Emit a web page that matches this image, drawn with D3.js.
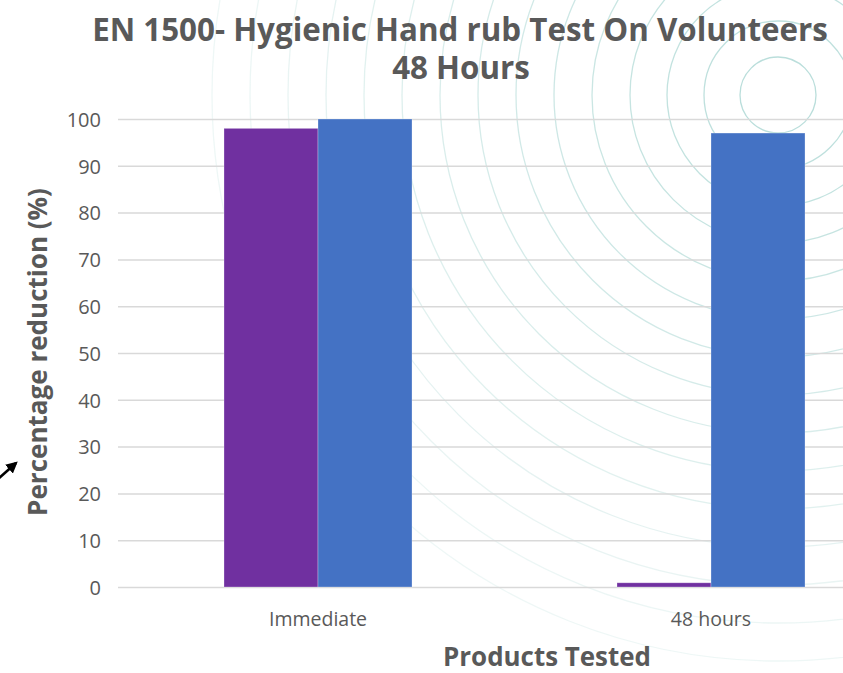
<!DOCTYPE html>
<html>
<head>
<meta charset="utf-8">
<script src="https://cdn.jsdelivr.net/npm/d3@7"></script>
<style>
  html, body { margin: 0; padding: 0; background: #ffffff; }
  svg { display: block; }
  text { font-family: "Open Sans", "Liberation Sans", sans-serif; }
</style>
</head>
<body>
<svg id="chart" width="843" height="673"></svg>
<script>
// ---- data ----
const categories = ["Immediate", "48 hours"];
const seriesNames = ["Product A", "Product B"];
const seriesA = [98, 0.9];
const seriesB = [100, 97];
const yTicks = [0, 10, 20, 30, 40, 50, 60, 70, 80, 90, 100];
const titleLines = ["EN 1500- Hygienic Hand rub Test On Volunteers", "48 Hours"];
const xAxisTitle = "Products Tested";
const yAxisTitle = "Percentage reduction (%)";
const colors = ["#7030a0", "#4472c4"];

const W = 843, H = 673;
const svg = d3.select("#chart");
const textColor = "#595959";

// ---- decorative fingerprint background ----
const deco = svg.append("g");
const decoRadii = [38, 74, 111, 148, 186, 224, 262, 300, 338, 376, 414, 452, 490, 528, 566];
const cx = 778, cy = 95;
decoRadii.forEach((r, i) => {
  deco.append("circle")
    .attr("cx", cx).attr("cy", cy).attr("r", r)
    .attr("fill", "none")
    .attr("stroke", "#a9d6d2")
    .attr("stroke-width", 1.3)
    .attr("opacity", Math.max(0.2, 0.8 - i * 0.045));
});

// ---- scales ----
const plotLeft = 121.5, plotRight = 907.5;
const yTop = 119, yBottom = 587;
const y = d3.scaleLinear().domain([0, 100]).range([yBottom, yTop]);
const x0 = d3.scaleBand().domain(categories).range([plotLeft, plotRight])
  .paddingInner(0.5216).paddingOuter(0.2608);
const x1 = d3.scaleBand().domain(seriesNames).range([0, x0.bandwidth()]);

// ---- gridlines ----
const yAxis = d3.axisLeft(y).tickValues(yTicks).tickSize(-(W - 118)).tickPadding(8);
const gy = svg.append("g").attr("transform", "translate(118,0)").call(yAxis);
gy.select(".domain").remove();
gy.selectAll(".tick line").attr("stroke", "#d9d9d9").attr("stroke-width", 1.5);
gy.selectAll(".tick text")
  .attr("fill", textColor)
  .style("font-size", "20px")
  .attr("x", -17)
  .attr("dy", "0.36em");

// ---- bars ----
const rows = categories.map((c, i) => ({ cat: c, vals: [seriesA[i], seriesB[i]] }));
const groups = svg.append("g").selectAll("g").data(rows).join("g")
  .attr("transform", d => `translate(${x0(d.cat)},0)`);
groups.selectAll("rect")
  .data(d => d.vals.map((v, j) => ({ name: seriesNames[j], v, j })))
  .join("rect")
  .attr("x", d => x1(d.name))
  .attr("y", d => y(d.v))
  .attr("width", x1.bandwidth())
  .attr("height", d => y(0) - y(d.v))
  .attr("fill", d => colors[d.j])
  .attr("stroke", "rgba(255,255,255,0.35)")
  .attr("stroke-width", 0.8);

// ---- x axis labels ----
const xAxis = d3.axisBottom(x0).tickSize(0).tickPadding(0);
const gx = svg.append("g").attr("transform", `translate(0,${yBottom})`).call(xAxis);
gx.select(".domain").remove();
gx.selectAll(".tick text")
  .attr("fill", textColor)
  .style("font-size", "19.5px")
  .attr("y", 39)
  .attr("dy", 0);

// helper to fit text width
function fit(sel, targetWidth) {
  const w = sel.node().getComputedTextLength();
  const fs = parseFloat(sel.style("font-size"));
  sel.style("font-size", (fs * targetWidth / w) + "px");
}

// ---- title ----
const t1 = svg.append("text").attr("x", 460).attr("y", 41)
  .attr("text-anchor", "middle").attr("fill", textColor)
  .style("font-weight", "bold").style("font-size", "28px").text(titleLines[0]);
fit(t1, 736);
const t2 = svg.append("text").attr("x", 461).attr("y", 79)
  .attr("text-anchor", "middle").attr("fill", textColor)
  .style("font-weight", "bold").style("font-size", t1.style("font-size")).text(titleLines[1]);

// ---- axis titles ----
const xt = svg.append("text").attr("x", 547).attr("y", 666)
  .attr("text-anchor", "middle").attr("fill", textColor)
  .style("font-weight", "bold").style("font-size", "24px").text(xAxisTitle);
fit(xt, 208);

const yt = svg.append("text")
  .attr("transform", "translate(47,352) rotate(-90)")
  .attr("text-anchor", "middle").attr("fill", textColor)
  .style("font-weight", "bold").style("font-size", "24px").text(yAxisTitle);
fit(yt, 328);

// ---- small arrow at left ----
const defs = svg.append("defs");
defs.append("marker").attr("id", "arr").attr("viewBox", "0 0 10 10")
  .attr("refX", 8).attr("refY", 5).attr("markerWidth", 4.5).attr("markerHeight", 4.5)
  .attr("orient", "auto")
  .append("path").attr("d", "M0,0 L10,5 L0,10 Z").attr("fill", "#000");
svg.append("line").attr("x1", -2).attr("y1", 479).attr("x2", 16).attr("y2", 463)
  .attr("stroke", "#000").attr("stroke-width", 2.6).attr("marker-end", "url(#arr)");
</script>
</body>
</html>
